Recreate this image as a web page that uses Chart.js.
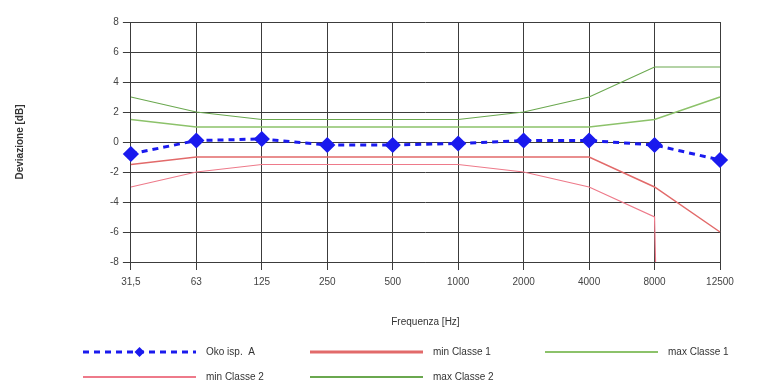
<!DOCTYPE html>
<html>
<head>
<meta charset="utf-8">
<script src="https://cdn.jsdelivr.net/npm/chart.js@4.4.0/dist/chart.umd.min.js"></script>
<style>
  html, body { margin: 0; padding: 0; background: #fff; }
  #wrap { width: 757px; height: 383px; }
</style>
</head>
<body>
<div id="wrap"><canvas id="chart-canvas"></canvas></div>
<script>
const frequencies = ['31,5', '63', '125', '250', '500', '1000', '2000', '4000', '8000', '12500'];
const yTicks = [8, 6, 4, 2, 0, -2, -4, -6, -8];

const measuredA = [-0.8, 0.1, 0.2, -0.2, -0.2, -0.1, 0.1, 0.1, -0.2, -1.2];
const minClass1 = [-1.5, -1, -1, -1, -1, -1, -1, -1, -3, -6];
const maxClass1 = [1.5, 1, 1, 1, 1, 1, 1, 1, 1.5, 3];
const minClass2 = [-3, -2, -1.5, -1.5, -1.5, -1.5, -2, -3, -5, -200];
const maxClass2 = [3, 2, 1.5, 1.5, 1.5, 1.5, 2, 3, 5, 5];

const seriesNames = ['Oko isp.  A', 'min Classe 1', 'max Classe 1', 'min Classe 2', 'max Classe 2'];

// legend drawn by hand: 3 items on first row, 2 on second
const bottomLegend = {
    id: 'bottomLegend',
    afterDraw(chart) {
        const ctx = chart.ctx;
        const rows = [352, 377];
        const cols = [83, 310, 545];
        ctx.save();
        ctx.font = '10px "Liberation Sans", Arial, sans-serif';
        ctx.textBaseline = 'middle';
        chart.data.datasets.forEach((ds, i) => {
            const x = cols[i % 3];
            const y = rows[Math.floor(i / 3)];
            const w = 113;
            ctx.strokeStyle = ds.borderColor;
            ctx.lineWidth = ds.legendWidth;
            ctx.setLineDash(ds.borderDash || []);
            ctx.beginPath();
            ctx.moveTo(x, y);
            ctx.lineTo(x + w, y);
            ctx.stroke();
            ctx.setLineDash([]);
            if (ds.pointRadius > 0) {
                ctx.fillStyle = ds.pointBackgroundColor;
                ctx.beginPath();
                const cx = x + w / 2, r = 5;
                ctx.moveTo(cx, y - r);
                ctx.lineTo(cx + r, y);
                ctx.lineTo(cx, y + r);
                ctx.lineTo(cx - r, y);
                ctx.closePath();
                ctx.fill();
            }
            ctx.fillStyle = '#333';
            ctx.fillText(ds.label, x + w + 10, y);
        });
        ctx.restore();
    }
};

const data = {
    labels: frequencies,
    datasets: [{
        label: seriesNames[0],
        data: measuredA,
        borderColor: '#1a1aee',
        backgroundColor: '#1a1aee',
        pointBackgroundColor: '#1a1aee',
        borderWidth: 3,
        legendWidth: 3,
        borderDash: [6, 5],
        pointStyle: 'rectRot',
        pointRadius: 6,
        order: 0
    }, {
        label: seriesNames[1],
        data: minClass1,
        borderColor: '#e26a6a',
        borderWidth: 1.5,
        legendWidth: 3,
        pointRadius: 0,
        order: 1
    }, {
        label: seriesNames[2],
        data: maxClass1,
        borderColor: '#8cc26a',
        borderWidth: 1.5,
        legendWidth: 2,
        pointRadius: 0,
        order: 2
    }, {
        label: seriesNames[3],
        data: minClass2,
        borderColor: '#ee7a8a',
        borderWidth: 1.2,
        legendWidth: 2,
        pointRadius: 0,
        order: 3
    }, {
        label: seriesNames[4],
        data: maxClass2,
        borderColor: '#6aa84f',
        borderWidth: 1.2,
        legendWidth: 2,
        pointRadius: 0,
        order: 4
    }]
};

const config = {
    type: 'line',
    data: data,
    plugins: [bottomLegend],
    options: {
        responsive: false,
        animation: false,
        layout: { padding: { left: 12, right: 37, top: 22, bottom: 55 } },
        elements: { line: { tension: 0 } },
        scales: {
            x: {
                offset: false,
                grid: { color: '#3c3c3c', lineWidth: 1, tickLength: 8 },
                border: { color: '#3c3c3c' },
                ticks: { color: '#444', font: { size: 10, family: '"Liberation Sans", Arial' }, maxRotation: 0, padding: 6 },
                title: {
                    display: true,
                    text: 'Frequenza [Hz]',
                    color: '#333',
                    font: { size: 10, family: '"Liberation Sans", Arial' },
                    padding: { top: 22, bottom: 0 }
                }
            },
            y: {
                min: -8,
                max: 8,
                afterBuildTicks: axis => { axis.ticks = yTicks.map(v => ({ value: v })); },
                grid: { color: '#3c3c3c', lineWidth: 1, tickLength: 8 },
                border: { color: '#3c3c3c' },
                ticks: { color: '#444', font: { size: 10, family: '"Liberation Sans", Arial' }, padding: 4 },
                title: {
                    display: true,
                    text: 'Deviazione [dB]',
                    color: '#333',
                    font: { size: 10, weight: 'bold', family: '"Liberation Sans", Arial' },
                    padding: { top: 2, bottom: 80 }
                }
            }
        },
        plugins: {
            legend: { display: false },
            tooltip: { enabled: false }
        }
    }
};

const canvas = document.getElementById('chart-canvas');
canvas.width = 757;
canvas.height = 383;
const myLineChart = new Chart(canvas.getContext('2d'), config);
</script>
</body>
</html>
